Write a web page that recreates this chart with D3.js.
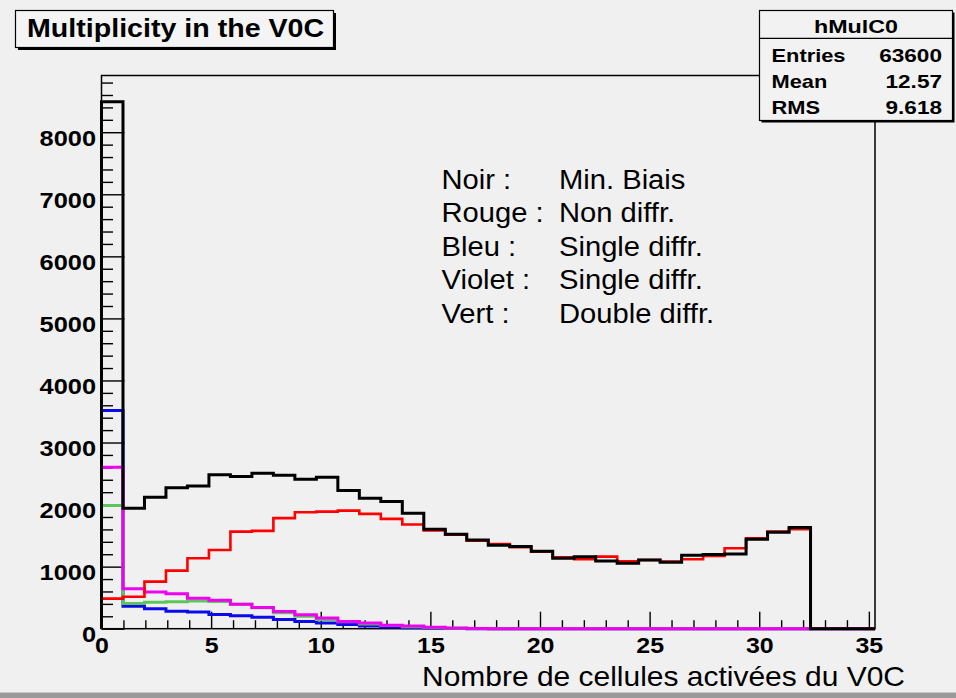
<!DOCTYPE html>
<html>
<head>
<meta charset="utf-8">
<script src="https://cdn.jsdelivr.net/npm/d3@7"></script>
<style>
  html, body { margin: 0; padding: 0; background: #f0f0f0; }
  svg { display: block; }
  text { font-family: "Liberation Sans", Arial, Helvetica, sans-serif; fill: #000; }
</style>
</head>
<body>
<svg id="canvas" width="956" height="698"></svg>
<script>
// ---- histogram definition: 36 bins of width 0.98 starting at 0 ----
const binWidth = 0.98;
const xDomain = [0, 35.28];
const yDomain = [0, 8914];

// ---- bin contents per sample ----
const noir = [8490, 1942, 2120, 2270, 2300, 2479, 2452, 2506, 2474, 2410, 2442, 2226,
              2103, 2048, 1861, 1603, 1520, 1431, 1345, 1323, 1248, 1135, 1161, 1092,
              1054, 1108, 1071, 1184, 1194, 1205, 1442, 1555, 1629, 0, 0, 0];
const rouge = [485, 516, 758, 935, 1135, 1269, 1565, 1576, 1781, 1877, 1887, 1903,
               1850, 1770, 1680, 1585, 1515, 1420, 1366, 1313, 1242, 1151, 1119, 1161,
               1087, 1108, 1081, 1119, 1173, 1297, 1458, 1565, 1603, 0, 0, 0];
const bleu = [3516, 360, 320, 280, 268, 230, 210, 185, 150, 118, 92, 66,
              45, 28, 15, 7, 3, 1, 0, 0, 0, 0, 0, 0,
              0, 0, 0, 0, 0, 0, 0, 0, 0, 0, 0, 0];
const violet = [2603, 645, 590, 565, 490, 458, 395, 342, 276, 225, 172, 118,
                90, 55, 42, 22, 10, 4, 0, 0, 0, 0, 0, 0,
                0, 0, 0, 0, 0, 0, 0, 0, 0, 0, 0, 0];
const vert = [1984, 405, 428, 435, 447, 437, 392, 338, 258, 200, 150, 110,
              75, 50, 30, 15, 6, 2, 0, 0, 0, 0, 0, 0,
              0, 0, 0, 0, 0, 0, 0, 0, 0, 0, 0, 0];

// ---- axis ticks and labels ----
const xTickValues = [0, 5, 10, 15, 20, 25, 30, 35];
const xTickLabels = ["0", "5", "10", "15", "20", "25", "30", "35"];
const yTickValues = [0, 1000, 2000, 3000, 4000, 5000, 6000, 7000, 8000];
const yTickLabels = ["0", "1000", "2000", "3000", "4000", "5000", "6000", "7000", "8000"];

// ---- texts ----
const titleText = "Multiplicity in the V0C";
const xTitle = "Nombre de cellules activées du V0C";
const statsName = "hMulC0";
const statsLabels = ["Entries", "Mean", "RMS"];
const statsValues = ["63600", "12.57", "9.618"];
const legendKeys = ["Noir :", "Rouge :", "Bleu :", "Violet :", "Vert :"];
const legendDescs = ["Min. Biais", "Non diffr.", "Single diffr.", "Single diffr.", "Double diffr."];

// ---- layout ----
const frame = { left: 101.5, right: 875, top: 75.5, bottom: 628.7 };
const svg = d3.select("#canvas");

const x = d3.scaleLinear().domain(xDomain).range([frame.left, frame.right]);
const y = d3.scaleLinear().domain(yDomain).range([frame.bottom, frame.top]);

// widen glyphs horizontally, like the canvas font
function stretch(sel, f) {
  sel.each(function () {
    const w = this.getComputedTextLength();
    d3.select(this).attr("textLength", w * f).attr("lengthAdjust", "spacingAndGlyphs");
  });
}

// canvas background and lower bevel
svg.append("rect").attr("x", 0).attr("y", 0).attr("width", 956).attr("height", 698).attr("fill", "#f0f0f0");
svg.append("rect").attr("x", 0).attr("y", 692.5).attr("width", 956).attr("height", 5.5).attr("fill", "#9a9a9a");
svg.append("rect").attr("x", 0).attr("y", 692).attr("width", 956).attr("height", 1).attr("fill", "#c8c8c8");

// ---- axes ----
const yMinor = d3.range(200, 8914, 200).filter(v => v % 1000 !== 0);
const xMinor = d3.range(1, 35.3, 1).filter(v => v % 5 !== 0);

const gy = svg.append("g").attr("transform", `translate(${frame.left},0)`);
gy.call(d3.axisLeft(y).tickValues(yMinor).tickSize(-11.5).tickFormat(""));
gy.call(g => g.selectAll(".tick line").attr("stroke", "#000").attr("stroke-width", 1.4));
const gyMajor = svg.append("g").attr("transform", `translate(${frame.left},0)`);
gyMajor.call(d3.axisLeft(y).tickValues(yTickValues).tickSize(-23).tickPadding(5.5)
  .tickFormat((d, i) => yTickLabels[i]));
gyMajor.selectAll(".tick line").attr("stroke", "#000").attr("stroke-width", 1.4);
gyMajor.selectAll(".tick text")
  .attr("dy", "13px")
  .style("font-size", "21.5px").style("font-weight", "bold").attr("fill", "#000")
  .call(stretch, 1.18);
svg.selectAll(".domain").remove();

const gx = svg.append("g").attr("transform", `translate(0,${frame.bottom})`);
gx.call(d3.axisBottom(x).tickValues(xMinor).tickSize(-8.5).tickFormat(""));
gx.selectAll(".tick line").attr("stroke", "#000").attr("stroke-width", 1.4);
const gxMajor = svg.append("g").attr("transform", `translate(0,${frame.bottom})`);
gxMajor.call(d3.axisBottom(x).tickValues(xTickValues).tickSize(-17)
  .tickFormat((d, i) => xTickLabels[i]));
gxMajor.selectAll(".tick line").attr("stroke", "#000").attr("stroke-width", 1.4);
gxMajor.selectAll(".tick text")
  .attr("y", 24.8).attr("dy", 0)
  .style("font-size", "21.5px").style("font-weight", "bold").attr("fill", "#000")
  .call(stretch, 1.16);
svg.selectAll(".domain").remove();

// plot frame
svg.append("rect")
  .attr("x", frame.left).attr("y", frame.top)
  .attr("width", frame.right - frame.left).attr("height", frame.bottom - frame.top)
  .attr("fill", "none").attr("stroke", "#000").attr("stroke-width", 1.5);

// ---- histograms as step lines ----
function stepPoints(values) {
  const pts = [[0, 0]];
  values.forEach((v, i) => pts.push([i * binWidth, v]));
  pts.push([values.length * binWidth, values[values.length - 1]]);
  return pts;
}
const step = d3.line().x(d => x(d[0])).y(d => y(d[1])).curve(d3.curveStepAfter);

const series = [
  { values: bleu, color: "#0a0aea", width: 3 },
  { values: vert, color: "#5cc65c", width: 3 },
  { values: violet, color: "#f000f0", width: 3 },
  { values: rouge, color: "#ff0000", width: 2.6 },
  { values: noir, color: "#000000", width: 3 }
];
svg.append("g").selectAll("path").data(series).join("path")
  .attr("d", s => step(stepPoints(s.values)))
  .attr("fill", "none")
  .attr("stroke", s => s.color)
  .attr("stroke-width", s => s.width)
  .attr("stroke-linejoin", "miter");

// ---- axis title ----
svg.append("text")
  .attr("x", 905).attr("y", 686)
  .attr("text-anchor", "end")
  .style("font-size", "28px")
  .text(xTitle).call(stretch, 1.07);

// ---- legend text ----
const leg = svg.append("g");
legendKeys.forEach((k, i) => {
  const by = 189 + i * 33.4;
  leg.append("text").attr("x", 441.5).attr("y", by)
    .style("font-size", "27px").text(k).call(stretch, 1.08);
  leg.append("text").attr("x", 559).attr("y", by)
    .style("font-size", "27px").text(legendDescs[i]).call(stretch, 1.08);
});

// ---- title box ----
svg.append("rect").attr("x", 18).attr("y", 13).attr("width", 318).attr("height", 37).attr("fill", "#000");
svg.append("rect").attr("x", 15.5).attr("y", 10.5).attr("width", 318).attr("height", 37)
  .attr("fill", "#f4f4f4").attr("stroke", "#000").attr("stroke-width", 1.2);
svg.append("text").attr("x", 27).attr("y", 37.3)
  .style("font-size", "26px").style("font-weight", "bold")
  .text(titleText).call(stretch, 1.1);

// ---- statistics box ----
const sb = { x: 759.5, y: 10.5, w: 193, h: 110 };
svg.append("rect").attr("x", sb.x + 2).attr("y", sb.y + 2).attr("width", sb.w).attr("height", sb.h).attr("fill", "#000");
svg.append("rect").attr("x", sb.x).attr("y", sb.y).attr("width", sb.w).attr("height", sb.h)
  .attr("fill", "#f2f2f2").attr("stroke", "#000").attr("stroke-width", 1.2);
svg.append("line").attr("x1", sb.x).attr("x2", sb.x + sb.w).attr("y1", 38.3).attr("y2", 38.3)
  .attr("stroke", "#000").attr("stroke-width", 1.2);
svg.append("text").attr("x", 856).attr("y", 33.3).attr("text-anchor", "middle")
  .style("font-size", "17.5px").style("font-weight", "bold")
  .text(statsName).call(stretch, 1.33);
const statsY = [61.5, 88, 113.5];
statsLabels.forEach((lab, i) => {
  svg.append("text").attr("x", 771.5).attr("y", statsY[i])
    .style("font-size", "18.5px").style("font-weight", "bold")
    .text(lab).call(stretch, 1.18);
  svg.append("text").attr("x", 942).attr("y", statsY[i]).attr("text-anchor", "end")
    .style("font-size", "18.5px").style("font-weight", "bold")
    .text(statsValues[i]).call(stretch, 1.22);
});
</script>
</body>
</html>
